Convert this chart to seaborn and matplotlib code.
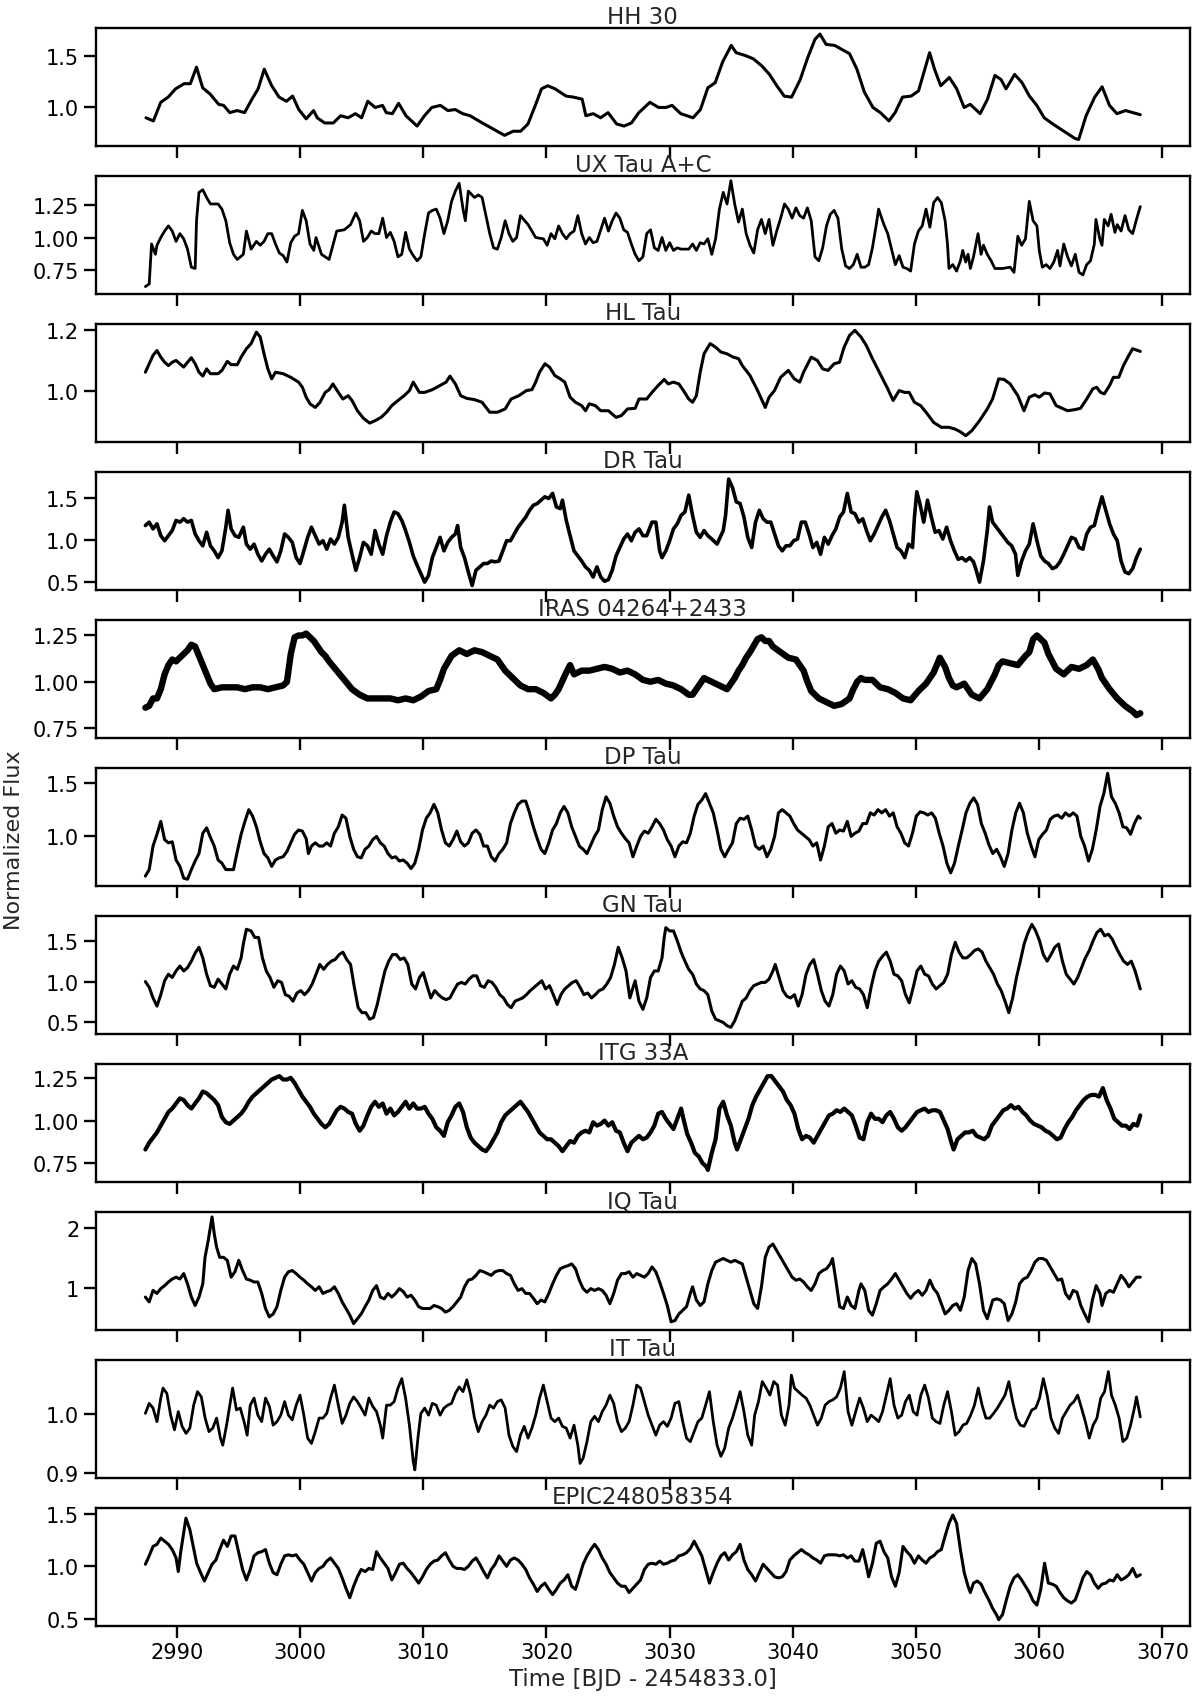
import matplotlib
matplotlib.use("Agg")
import matplotlib.pyplot as plt
import seaborn as sns
import pandas as pd

# ---------------- data (time [BJD-2454833], normalized flux) ----------------
hh30 = [(2987.5,0.90),(2988.1,0.87),(2988.7,1.05),(2989.3,1.10),(2989.9,1.18),(2990.6,1.23),(2991.1,1.23),
        (2991.6,1.39),(2992.1,1.19),(2992.7,1.13),(2993.4,1.03),(2993.8,1.02),(2994.3,0.95),(2994.9,0.97),
        (2995.5,0.95),(2996.1,1.08),(2996.6,1.18),(2997.1,1.37),(2997.7,1.21),(2998.3,1.10),(2998.9,1.06),
        (2999.4,1.11),(2999.9,0.98),(3000.5,0.89),(3001.1,0.97),(3001.4,0.90),(3002.0,0.85),(3002.7,0.85),
        (3003.3,0.92),(3003.9,0.90),(3004.5,0.94),(3005.0,0.90),(3005.5,1.06),(3006.1,1.00),(3006.7,1.02),
        (3007.0,0.95),(3007.5,0.94),(3008.0,1.04),(3008.6,0.92),(3009.5,0.82),(3010.1,0.92),(3010.7,1.00),
        (3011.4,1.02),(3012.0,0.97),(3012.6,0.98),(3013.2,0.94),(3013.8,0.92),(3014.8,0.85),(3015.7,0.79),
        (3016.6,0.73),(3017.3,0.77),(3017.9,0.77),(3018.5,0.84),(3019.1,1.02),(3019.6,1.18),(3020.1,1.21),
        (3020.7,1.18),(3021.6,1.11),(3022.2,1.10),(3022.9,1.08),(3023.2,0.92),(3023.8,0.94),(3024.4,0.90),
        (3025.0,0.95),(3025.7,0.84),(3026.3,0.82),(3026.9,0.85),(3027.5,0.95),(3028.4,1.05),(3029.1,1.00),
        (3029.7,1.00),(3030.2,1.02),(3030.9,0.94),(3031.9,0.90),(3032.5,0.98),(3033.1,1.19),(3033.7,1.24),
        (3034.3,1.44),(3035.0,1.60),(3035.4,1.53),(3036.2,1.50),(3036.8,1.47),(3037.5,1.40),(3038.1,1.32),
        (3038.7,1.21),(3039.3,1.11),(3039.9,1.10),(3040.6,1.27),(3041.2,1.48),(3041.8,1.66),(3042.2,1.71),
        (3042.7,1.61),(3043.4,1.60),(3044.0,1.56),(3044.6,1.52),(3045.2,1.37),(3045.8,1.15),(3046.5,1.00),
        (3047.1,0.95),(3047.8,0.87),(3048.3,0.95),(3048.9,1.10),(3049.6,1.11),(3050.2,1.16),(3051.1,1.53),
        (3051.5,1.37),(3052.0,1.21),(3052.7,1.29),(3053.3,1.18),(3053.9,1.00),(3054.4,1.03),(3055.2,0.94),
        (3055.8,1.08),(3056.4,1.31),(3056.9,1.27),(3057.3,1.18),(3058.0,1.32),(3058.6,1.24),(3059.2,1.11),
        (3059.8,1.02),(3060.4,0.90),(3061.1,0.84),(3062.0,0.77),(3062.9,0.70),(3063.2,0.69),(3063.8,0.92),
        (3064.5,1.10),(3065.1,1.20),(3065.7,1.02),(3066.3,0.94),(3067.0,0.97),(3067.6,0.95),(3068.2,0.93)]

ux_tau = [(2987.45,0.62),(2987.76,0.64),(2987.95,0.95),(2988.26,0.87),(2988.39,0.94),(2988.70,1.00),
          (2989.01,1.05),(2989.32,1.09),(2989.63,1.05),(2989.94,0.97),(2990.25,1.03),(2990.56,0.99),
          (2990.87,0.91),(2991.18,0.77),(2991.49,0.76),(2991.60,1.13),(2991.80,1.35),(2992.11,1.37),
          (2992.42,1.31),(2992.73,1.26),(2993.35,1.26),(2993.66,1.22),(2993.98,1.13),(2994.29,0.96),
          (2994.60,0.87),(2994.91,0.83),(2995.40,0.87),(2995.65,1.05),(2996.03,0.91),(2996.46,0.97),
          (2996.77,0.94),(2997.08,0.97),(2997.39,1.03),(2997.70,1.03),(2998.01,0.95),(2998.32,0.88),
          (2998.63,0.86),(2998.94,0.81),(2999.25,0.96),(2999.56,1.01),(2999.88,1.03),(3000.19,1.21),
          (3000.50,1.13),(3000.81,0.95),(3001.12,0.90),(3001.30,1.00),(3001.74,0.87),(3002.36,0.83),
          (3002.98,1.05),(3003.60,1.06),(3004.10,1.10),(3004.53,1.19),(3004.84,1.13),(3005.15,0.97),
          (3005.47,1.00),(3005.78,1.05),(3006.09,1.03),(3006.40,1.03),(3006.71,1.15),(3007.02,1.00),
          (3007.33,1.04),(3007.64,0.97),(3007.95,0.85),(3008.26,0.87),(3008.57,1.04),(3008.88,0.91),
          (3009.19,0.86),(3009.50,0.82),(3009.81,0.85),(3010.12,1.03),(3010.43,1.19),(3010.74,1.21),
          (3011.06,1.22),(3011.37,1.15),(3011.68,1.03),(3011.99,1.13),(3012.30,1.28),(3012.61,1.36),
          (3012.92,1.42),(3013.23,1.22),(3013.42,1.13),(3013.66,1.36),(3014.16,1.31),(3014.47,1.33),
          (3014.78,1.31),(3015.09,1.17),(3015.40,1.03),(3015.71,0.92),(3016.02,0.91),(3016.33,1.00),
          (3016.65,1.13),(3016.96,1.03),(3017.27,0.97),(3017.58,1.00),(3017.89,1.17),(3018.51,1.10),
          (3019.13,1.00),(3019.75,0.99),(3020.06,0.94),(3020.37,1.03),(3020.68,0.99),(3020.99,1.09),
          (3021.30,1.03),(3021.61,0.99),(3021.92,1.03),(3022.24,1.05),(3022.55,1.17),(3022.86,1.03),
          (3023.17,0.95),(3023.48,1.00),(3023.79,0.96),(3024.10,0.97),(3024.41,1.06),(3024.72,1.15),
          (3025.03,1.05),(3025.34,1.13),(3025.65,1.19),(3025.96,1.15),(3026.27,1.06),(3026.58,1.04),
          (3026.89,0.95),(3027.20,0.87),(3027.51,0.82),(3027.83,0.85),(3028.14,1.03),(3028.45,1.06),
          (3028.76,0.92),(3029.07,0.90),(3029.38,1.00),(3029.69,0.90),(3030.00,0.96),(3030.31,0.90),
          (3030.62,0.92),(3030.93,0.91),(3031.55,0.91),(3031.86,0.95),(3032.17,0.90),(3032.48,0.96),
          (3032.79,0.95),(3033.10,0.99),(3033.42,0.87),(3033.73,0.99),(3034.04,1.22),(3034.35,1.35),
          (3034.66,1.26),(3034.97,1.44),(3035.28,1.26),(3035.59,1.12),(3035.90,1.22),(3036.21,1.03),
          (3036.52,0.94),(3036.83,0.88),(3037.14,1.06),(3037.45,1.14),(3037.76,1.03),(3038.07,1.14),
          (3038.38,0.94),(3038.69,1.05),(3039.01,1.15),(3039.32,1.26),(3039.63,1.22),(3039.94,1.15),
          (3040.25,1.23),(3040.56,1.17),(3040.87,1.15),(3041.18,1.23),(3041.49,1.13),(3041.80,0.85),
          (3042.11,0.82),(3042.42,0.92),(3042.73,1.09),(3043.04,1.18),(3043.35,1.21),(3043.66,1.15),
          (3043.97,0.91),(3044.28,0.78),(3044.60,0.76),(3044.91,0.79),(3045.22,0.87),(3045.53,0.77),
          (3045.84,0.77),(3046.15,0.79),(3046.46,0.92),(3046.77,1.10),(3046.96,1.22),(3047.39,1.10),
          (3047.70,1.03),(3048.01,0.91),(3048.32,0.79),(3048.63,0.86),(3048.94,0.77),(3049.25,0.76),
          (3049.56,0.74),(3049.87,0.95),(3050.19,1.05),(3050.50,1.09),(3050.81,1.22),(3051.12,1.08),
          (3051.43,1.27),(3051.74,1.31),(3052.05,1.27),(3052.36,1.13),(3052.55,0.95),(3052.67,0.76),
          (3052.98,0.79),(3053.29,0.74),(3053.60,0.82),(3053.79,0.90),(3054.03,0.81),(3054.22,0.87),
          (3054.41,0.76),(3054.66,0.85),(3055.03,1.03),(3055.28,0.87),(3055.47,0.94),(3055.78,0.87),
          (3056.09,0.82),(3056.40,0.76),(3057.02,0.76),(3057.64,0.77),(3057.95,0.73),(3058.26,1.01),
          (3058.57,0.94),(3058.88,0.99),(3059.19,1.28),(3059.50,1.13),(3059.81,1.09),(3060.00,0.90),
          (3060.25,0.77),(3060.56,0.79),(3060.87,0.76),(3061.18,0.81),(3061.49,0.90),(3061.68,0.78),
          (3061.99,0.95),(3062.30,0.85),(3062.61,0.78),(3062.92,0.87),(3063.23,0.73),(3063.54,0.71),
          (3063.85,0.79),(3064.16,0.82),(3064.47,0.95),(3064.60,1.14),(3064.91,0.99),(3065.09,0.94),
          (3065.28,1.14),(3065.59,1.09),(3065.83,1.18),(3066.14,1.04),(3066.33,1.10),(3066.64,1.05),
          (3066.96,1.17),(3067.27,1.06),(3067.58,1.03),(3067.89,1.14),(3068.20,1.24)]

hl_tau = [(2987.45,1.061),(2987.76,1.089),(2988.07,1.117),(2988.39,1.133),(2988.70,1.111),(2989.01,1.094),
          (2989.32,1.083),(2989.63,1.094),(2989.94,1.100),(2990.25,1.089),(2990.56,1.078),(2990.87,1.094),
          (2991.18,1.109),(2991.49,1.089),(2991.80,1.061),(2992.11,1.048),(2992.42,1.072),(2992.73,1.056),
          (2993.04,1.056),(2993.35,1.056),(2993.66,1.067),(2994.10,1.097),(2994.41,1.086),(2994.91,1.086),
          (2995.22,1.111),(2995.65,1.139),(2996.03,1.156),(2996.46,1.194),(2996.77,1.178),(2997.08,1.122),
          (2997.39,1.072),(2997.70,1.039),(2998.01,1.061),(2998.63,1.056),(2999.25,1.044),(2999.88,1.028),
          (3000.19,1.011),(3000.50,0.978),(3000.81,0.956),(3001.24,0.944),(3001.62,0.961),(3002.05,0.994),
          (3002.36,1.003),(3002.67,1.022),(3003.11,0.994),(3003.48,0.972),(3003.91,0.983),(3004.22,0.967),
          (3004.66,0.933),(3005.15,0.908),(3005.65,0.892),(3006.09,0.900),(3006.58,0.911),(3007.02,0.928),
          (3007.45,0.950),(3007.95,0.967),(3008.45,0.983),(3008.88,1.000),(3009.19,1.028),(3009.69,0.994),
          (3010.12,0.994),(3010.74,1.003),(3011.37,1.017),(3011.86,1.028),(3012.17,1.048),(3012.61,1.022),
          (3013.04,0.983),(3013.54,0.974),(3014.16,0.970),(3014.78,0.961),(3015.40,0.928),(3016.02,0.928),
          (3016.65,0.939),(3017.14,0.972),(3017.76,0.983),(3018.38,1.000),(3018.82,1.003),(3019.13,1.028),
          (3019.44,1.061),(3019.88,1.089),(3020.25,1.078),(3020.68,1.050),(3021.12,1.039),(3021.49,1.028),
          (3021.92,0.978),(3022.36,0.961),(3022.86,0.950),(3023.17,0.933),(3023.48,0.956),(3023.97,0.950),
          (3024.41,0.933),(3025.03,0.933),(3025.65,0.911),(3026.09,0.917),(3026.58,0.939),(3027.20,0.941),
          (3027.51,0.972),(3028.14,0.972),(3028.57,0.994),(3029.07,1.017),(3029.56,1.037),(3029.88,1.022),
          (3030.31,1.028),(3030.75,1.022),(3031.12,1.000),(3031.55,0.972),(3031.86,0.961),(3032.17,0.983),
          (3032.48,1.061),(3032.79,1.122),(3033.29,1.156),(3033.73,1.144),(3034.16,1.128),(3034.66,1.122),
          (3035.16,1.111),(3035.59,1.106),(3035.90,1.083),(3036.52,1.050),(3037.14,1.000),(3037.76,0.944),
          (3038.07,0.978),(3038.51,1.000),(3039.01,1.044),(3039.63,1.067),(3040.12,1.039),(3040.56,1.028),
          (3040.87,1.061),(3041.49,1.111),(3041.99,1.100),(3042.42,1.072),(3042.86,1.067),(3043.35,1.089),
          (3043.79,1.094),(3044.16,1.144),(3044.60,1.183),(3045.03,1.200),(3045.53,1.178),(3045.96,1.150),
          (3046.46,1.106),(3047.08,1.056),(3047.70,1.006),(3048.14,0.967),(3048.63,1.000),(3049.07,0.994),
          (3049.44,0.994),(3049.87,0.961),(3050.37,0.950),(3050.81,0.928),(3051.43,0.894),(3052.05,0.878),
          (3052.67,0.878),(3053.17,0.872),(3053.60,0.863),(3054.03,0.850),(3054.53,0.867),(3055.15,0.900),
          (3055.78,0.939),(3056.21,0.972),(3056.71,1.039),(3057.14,1.037),(3057.64,1.022),(3058.26,0.983),
          (3058.76,0.933),(3059.19,0.978),(3059.63,0.986),(3060.00,0.978),(3060.43,0.992),(3060.87,0.989),
          (3061.37,0.950),(3061.86,0.941),(3062.30,0.933),(3062.92,0.937),(3063.35,0.941),(3063.85,0.972),
          (3064.35,1.006),(3064.66,1.011),(3064.97,0.994),(3065.28,0.989),(3065.71,1.017),(3066.02,1.044),
          (3066.45,1.044),(3066.83,1.083),(3067.27,1.117),(3067.58,1.139),(3068.20,1.130)]

dr_tau = [(2987.45,1.17),(2987.76,1.21),(2988.07,1.13),(2988.39,1.19),(2988.70,1.05),(2989.01,0.99),
          (2989.32,1.05),(2989.63,1.11),(2989.94,1.23),(2990.25,1.21),(2990.56,1.25),(2990.87,1.21),
          (2991.18,1.23),(2991.49,1.07),(2991.80,0.99),(2992.11,0.93),(2992.42,1.09),(2992.73,0.93),
          (2993.04,0.87),(2993.35,0.79),(2993.66,0.87),(2993.98,1.15),(2994.16,1.35),(2994.41,1.13),
          (2994.72,1.05),(2995.03,1.03),(2995.40,1.15),(2995.65,0.95),(2995.96,0.89),(2996.27,0.95),
          (2996.58,0.83),(2996.89,0.75),(2997.20,0.83),(2997.51,0.89),(2997.82,0.81),(2998.13,0.74),
          (2998.44,0.87),(2998.75,1.07),(2999.06,1.03),(2999.37,0.97),(2999.69,0.79),(3000.00,0.72),
          (3000.31,0.87),(3000.62,1.03),(3000.93,1.15),(3001.24,1.05),(3001.55,0.95),(3001.86,0.99),
          (3002.17,0.89),(3002.48,1.01),(3002.79,0.95),(3003.11,1.03),(3003.42,1.21),(3003.60,1.41),
          (3003.91,1.03),(3004.22,0.83),(3004.53,0.64),(3004.84,0.79),(3005.15,0.97),(3005.47,0.93),
          (3005.78,0.83),(3006.09,1.11),(3006.40,0.95),(3006.71,0.83),(3007.02,1.05),(3007.33,1.21),
          (3007.64,1.33),(3007.95,1.31),(3008.26,1.23),(3008.57,1.11),(3008.88,0.97),(3009.19,0.81),
          (3009.50,0.70),(3009.81,0.60),(3010.12,0.50),(3010.43,0.58),(3010.74,0.79),(3011.06,0.91),
          (3011.37,1.03),(3011.68,0.87),(3011.99,0.97),(3012.30,1.03),(3012.61,1.07),(3012.79,1.17),
          (3013.04,0.91),(3013.35,0.79),(3013.66,0.62),(3013.97,0.46),(3014.28,0.64),(3014.59,0.68),
          (3014.90,0.72),(3015.21,0.72),(3015.52,0.75),(3015.83,0.74),(3016.15,0.75),(3016.46,0.87),
          (3016.77,0.99),(3017.08,0.99),(3017.39,1.07),(3017.70,1.15),(3018.01,1.21),(3018.32,1.27),
          (3018.63,1.35),(3018.94,1.41),(3019.25,1.43),(3019.56,1.47),(3019.87,1.51),(3020.19,1.49),
          (3020.50,1.55),(3020.81,1.39),(3021.12,1.37),(3021.30,1.47),(3021.61,1.23),(3021.92,1.05),
          (3022.24,0.87),(3022.55,0.81),(3022.86,0.75),(3023.17,0.68),(3023.48,0.64),(3023.79,0.56),
          (3024.10,0.68),(3024.41,0.56),(3024.72,0.51),(3025.03,0.53),(3025.34,0.64),(3025.65,0.81),
          (3025.96,0.91),(3026.27,1.01),(3026.58,1.07),(3026.89,0.99),(3027.20,1.09),(3027.51,1.13),
          (3027.83,1.05),(3028.14,1.05),(3028.57,1.21),(3028.88,1.21),(3029.19,0.87),(3029.38,0.79),
          (3029.69,0.87),(3030.00,0.99),(3030.31,1.13),(3030.62,1.19),(3030.93,1.29),(3031.24,1.33),
          (3031.55,1.53),(3031.86,1.29),(3032.17,1.09),(3032.48,1.03),(3032.79,1.11),(3033.10,1.05),
          (3033.42,1.01),(3033.85,0.95),(3034.35,1.11),(3034.54,1.29),(3034.79,1.72),(3035.10,1.62),
          (3035.41,1.45),(3035.72,1.43),(3036.03,1.27),(3036.34,1.03),(3036.66,0.91),(3036.97,1.21),
          (3037.28,1.35),(3037.59,1.25),(3037.90,1.21),(3038.21,1.21),(3038.52,1.07),(3038.83,0.93),
          (3039.14,0.87),(3039.45,0.93),(3039.76,0.93),(3040.07,0.99),(3040.38,1.01),(3040.69,1.21),
          (3041.01,1.21),(3041.32,1.07),(3041.63,0.91),(3041.94,0.97),(3042.25,0.83),(3042.56,1.03),
          (3042.87,0.95),(3043.18,1.05),(3043.49,1.13),(3043.80,1.27),(3044.11,1.33),(3044.42,1.55),
          (3044.73,1.33),(3045.04,1.31),(3045.36,1.21),(3045.67,1.25),(3045.98,1.11),(3046.29,0.99),
          (3046.60,1.07),(3046.91,1.17),(3047.22,1.27),(3047.53,1.35),(3047.84,1.23),(3048.15,1.07),
          (3048.46,0.91),(3048.77,0.87),(3049.08,0.79),(3049.39,0.95),(3049.71,0.91),(3049.87,1.27),
          (3050.06,1.57),(3050.31,1.43),(3050.62,1.21),(3050.93,1.47),(3051.24,1.27),(3051.55,1.09),
          (3051.86,1.11),(3052.17,1.01),(3052.48,1.15),(3052.80,0.99),(3053.11,0.87),(3053.42,0.77),
          (3053.73,0.79),(3054.04,0.75),(3054.35,0.79),(3054.66,0.74),(3054.84,0.66),(3055.15,0.50),
          (3055.47,0.75),(3055.78,1.11),(3055.96,1.39),(3056.21,1.21),(3056.52,1.15),(3056.83,1.09),
          (3057.14,1.03),(3057.45,0.97),(3057.76,0.93),(3058.07,0.83),(3058.26,0.58),(3058.57,0.75),
          (3058.88,0.87),(3059.19,0.95),(3059.50,1.19),(3059.81,0.99),(3060.12,0.81),(3060.43,0.75),
          (3060.74,0.72),(3061.06,0.66),(3061.37,0.68),(3061.68,0.74),(3061.99,0.83),(3062.30,0.93),
          (3062.61,1.03),(3062.92,1.01),(3063.23,0.91),(3063.54,0.89),(3063.85,1.07),(3064.16,1.15),
          (3064.47,1.17),(3064.78,1.35),(3065.09,1.51),(3065.40,1.35),(3065.71,1.19),(3066.02,1.07),
          (3066.33,0.99),(3066.64,0.75),(3066.96,0.62),(3067.27,0.60),(3067.58,0.66),(3067.89,0.79),
          (3068.20,0.89)]

iras = [(2987.45,0.86),(2987.76,0.87),(2988.07,0.91),(2988.39,0.91),(2988.70,0.96),(2989.01,1.04),
        (2989.32,1.09),(2989.63,1.12),(2989.94,1.11),(2990.25,1.13),(2990.56,1.15),(2990.87,1.17),
        (2991.18,1.20),(2991.49,1.19),(2991.80,1.14),(2992.11,1.09),(2992.42,1.04),(2992.73,0.99),
        (2993.04,0.96),(2993.66,0.97),(2994.29,0.97),(2994.91,0.97),(2995.53,0.96),(2996.15,0.97),
        (2996.77,0.97),(2997.39,0.96),(2998.01,0.97),(2998.63,0.98),(2998.94,1.00),(2999.25,1.15),
        (2999.56,1.24),(2999.88,1.25),(3000.19,1.25),(3000.50,1.26),(3000.81,1.24),(3001.12,1.22),
        (3001.43,1.19),(3001.74,1.16),(3002.05,1.14),(3002.36,1.11),(3002.98,1.06),(3003.60,1.01),
        (3004.22,0.96),(3004.84,0.93),(3005.47,0.91),(3006.09,0.91),(3006.71,0.91),(3007.33,0.91),
        (3007.95,0.90),(3008.57,0.91),(3009.19,0.90),(3009.81,0.92),(3010.43,0.95),(3011.06,0.96),
        (3011.37,1.01),(3011.68,1.07),(3012.30,1.14),(3012.92,1.17),(3013.54,1.15),(3014.16,1.17),
        (3014.78,1.16),(3015.40,1.14),(3016.02,1.12),(3016.65,1.06),(3017.27,1.02),(3017.89,0.98),
        (3018.51,0.96),(3019.13,0.96),(3019.75,0.94),(3020.37,0.91),(3020.68,0.93),(3020.99,0.96),
        (3021.61,1.05),(3021.92,1.09),(3022.24,1.04),(3022.86,1.06),(3023.48,1.06),(3024.10,1.07),
        (3024.72,1.08),(3025.34,1.07),(3025.96,1.05),(3026.58,1.06),(3027.20,1.04),(3027.83,1.01),
        (3028.45,1.00),(3029.07,1.01),(3029.69,0.99),(3030.31,0.98),(3030.93,0.96),(3031.55,0.93),
        (3031.86,0.93),(3032.17,0.96),(3032.79,1.02),(3033.42,1.00),(3034.04,0.98),(3034.66,0.96),
        (3035.28,1.02),(3035.59,1.06),(3035.90,1.09),(3036.21,1.13),(3036.52,1.16),(3037.14,1.23),
        (3037.45,1.24),(3037.76,1.22),(3038.07,1.22),(3038.38,1.19),(3039.01,1.16),(3039.63,1.13),
        (3040.25,1.12),(3040.56,1.09),(3040.87,1.06),(3041.18,1.00),(3041.49,0.95),(3042.11,0.91),
        (3042.73,0.89),(3043.35,0.87),(3043.97,0.88),(3044.60,0.91),(3044.91,0.96),(3045.22,1.00),
        (3045.53,1.02),(3045.84,1.01),(3046.46,1.01),(3047.08,0.97),(3047.70,0.96),(3048.32,0.94),
        (3048.94,0.91),(3049.56,0.90),(3050.19,0.95),(3050.81,0.99),(3051.43,1.05),(3051.93,1.13),
        (3052.36,1.08),(3052.67,1.02),(3052.98,0.98),(3053.29,0.97),(3053.91,0.99),(3054.22,0.96),
        (3054.53,0.93),(3054.84,0.92),(3055.15,0.91),(3055.78,0.96),(3056.40,1.04),(3056.71,1.09),
        (3057.02,1.11),(3057.64,1.10),(3058.26,1.09),(3058.88,1.14),(3059.19,1.16),(3059.50,1.23),
        (3059.81,1.25),(3060.12,1.23),(3060.43,1.21),(3060.74,1.15),(3061.37,1.07),(3061.99,1.04),
        (3062.61,1.08),(3063.23,1.07),(3063.85,1.09),(3064.35,1.12),(3064.78,1.07),(3065.09,1.02),
        (3065.71,0.96),(3066.33,0.91),(3066.96,0.87),(3067.58,0.84),(3067.89,0.82),(3068.20,0.83)]

dp_tau = [(2987.45,0.63),(2987.76,0.69),(2988.07,0.91),(2988.39,1.02),(2988.70,1.14),(2989.01,0.97),
          (2989.32,0.94),(2989.63,0.95),(2989.94,0.78),(2990.25,0.72),(2990.56,0.61),(2990.87,0.60),
          (2991.18,0.69),(2991.49,0.77),(2991.80,0.84),(2992.11,1.03),(2992.42,1.08),(2992.73,0.99),
          (2993.04,0.91),(2993.35,0.78),(2993.66,0.75),(2993.98,0.69),(2994.29,0.69),(2994.60,0.69),
          (2994.91,0.86),(2995.22,1.02),(2995.53,1.14),(2995.84,1.25),(2996.15,1.19),(2996.46,1.09),
          (2996.77,0.95),(2997.08,0.84),(2997.39,0.80),(2997.70,0.72),(2998.01,0.78),(2998.32,0.80),
          (2998.63,0.81),(2998.94,0.86),(2999.25,0.94),(2999.56,1.02),(2999.88,1.06),(3000.19,1.05),
          (3000.50,0.98),(3000.68,0.84),(3000.93,0.91),(3001.24,0.94),(3001.55,0.91),(3001.86,0.91),
          (3002.17,0.94),(3002.48,0.91),(3002.79,1.03),(3003.11,1.09),(3003.42,1.20),(3003.73,1.17),
          (3004.04,1.00),(3004.35,0.88),(3004.66,0.81),(3004.97,0.80),(3005.28,0.88),(3005.59,0.91),
          (3005.90,0.97),(3006.21,1.00),(3006.52,0.94),(3006.83,0.91),(3007.14,0.84),(3007.45,0.80),
          (3007.76,0.81),(3008.07,0.77),(3008.38,0.78),(3008.69,0.75),(3009.01,0.70),(3009.32,0.75),
          (3009.63,0.88),(3009.94,1.06),(3010.25,1.17),(3010.56,1.22),(3010.87,1.30),(3011.18,1.22),
          (3011.49,1.06),(3011.80,0.94),(3012.11,0.91),(3012.42,0.97),(3012.73,1.05),(3013.04,0.95),
          (3013.35,0.91),(3013.66,0.94),(3013.97,1.03),(3014.28,1.06),(3014.59,1.02),(3014.90,0.91),
          (3015.21,0.91),(3015.52,0.81),(3015.83,0.77),(3016.15,0.84),(3016.46,0.88),(3016.77,0.94),
          (3017.08,1.12),(3017.39,1.22),(3017.70,1.30),(3018.01,1.33),(3018.32,1.33),(3018.63,1.22),
          (3018.94,1.09),(3019.25,0.98),(3019.56,0.88),(3019.87,0.84),(3020.19,0.94),(3020.50,1.06),
          (3020.81,1.12),(3021.12,1.22),(3021.43,1.28),(3021.74,1.22),(3022.05,1.09),(3022.36,1.00),
          (3022.67,0.91),(3022.98,0.88),(3023.29,0.84),(3023.60,0.92),(3023.91,1.00),(3024.22,1.06),
          (3024.53,1.25),(3024.84,1.37),(3025.15,1.31),(3025.46,1.19),(3025.77,1.09),(3026.09,1.03),
          (3026.40,0.98),(3026.71,0.94),(3027.02,0.81),(3027.33,0.91),(3027.64,1.00),(3027.95,1.05),
          (3028.26,1.03),(3028.57,1.09),(3028.88,1.16),(3029.19,1.12),(3029.50,1.06),(3029.81,0.97),
          (3030.12,0.91),(3030.43,0.81),(3030.75,0.91),(3031.06,0.95),(3031.37,0.94),(3031.68,1.03),
          (3031.99,1.19),(3032.30,1.30),(3032.61,1.34),(3032.92,1.40),(3033.23,1.31),(3033.54,1.22),
          (3033.85,1.06),(3034.16,0.88),(3034.47,0.81),(3034.79,0.88),(3035.10,0.94),(3035.41,1.12),
          (3035.72,1.17),(3036.03,1.16),(3036.34,1.19),(3036.66,1.06),(3036.97,0.91),(3037.28,0.88),
          (3037.59,0.91),(3037.90,0.81),(3038.21,0.88),(3038.52,1.00),(3038.83,1.22),(3039.14,1.25),
          (3039.45,1.22),(3039.76,1.19),(3040.07,1.12),(3040.38,1.06),(3040.69,1.03),(3041.01,1.00),
          (3041.32,0.97),(3041.63,0.91),(3041.94,0.94),(3042.25,0.78),(3042.56,0.91),(3042.87,1.09),
          (3043.18,1.12),(3043.49,1.03),(3043.80,1.06),(3044.11,1.05),(3044.42,1.14),(3044.73,1.00),
          (3045.04,1.03),(3045.36,1.05),(3045.67,1.12),(3045.98,1.12),(3046.29,1.22),(3046.60,1.20),
          (3046.91,1.25),(3047.22,1.22),(3047.53,1.25),(3047.84,1.19),(3048.15,1.22),(3048.46,1.09),
          (3048.77,1.03),(3049.08,0.94),(3049.39,0.91),(3049.71,1.03),(3050.02,1.19),(3050.33,1.23),
          (3050.64,1.22),(3050.95,1.20),(3051.26,1.22),(3051.57,1.17),(3051.88,1.03),(3052.19,0.91),
          (3052.50,0.75),(3052.81,0.66),(3053.12,0.75),(3053.43,0.91),(3053.74,1.06),(3054.05,1.22),
          (3054.37,1.31),(3054.68,1.36),(3054.99,1.30),(3055.30,1.12),(3055.61,1.03),(3055.92,0.92),
          (3056.23,0.84),(3056.54,0.88),(3056.85,0.81),(3057.16,0.72),(3057.47,0.84),(3057.78,1.06),
          (3058.09,1.22),(3058.40,1.31),(3058.71,1.22),(3059.03,1.03),(3059.34,0.91),(3059.65,0.81),
          (3059.96,0.97),(3060.27,1.02),(3060.58,1.06),(3060.89,1.16),(3061.20,1.19),(3061.51,1.20),
          (3061.82,1.17),(3062.13,1.22),(3062.44,1.19),(3062.75,1.22),(3063.06,1.19),(3063.37,1.00),
          (3063.68,0.91),(3064.00,0.77),(3064.31,0.88),(3064.62,1.06),(3064.93,1.28),(3065.24,1.40),
          (3065.55,1.59),(3065.86,1.37),(3066.17,1.31),(3066.48,1.22),(3066.79,1.09),(3067.10,1.08),
          (3067.41,1.02),(3067.72,1.12),(3068.03,1.19),(3068.20,1.17)]

gn_tau = [(2987.45,1.00),(2987.76,0.93),(2988.07,0.80),(2988.39,0.70),(2988.70,0.84),(2989.01,1.01),
          (2989.32,1.09),(2989.63,1.05),(2989.94,1.13),(2990.25,1.19),(2990.56,1.13),(2990.87,1.17),
          (2991.18,1.25),(2991.49,1.35),(2991.80,1.42),(2992.11,1.29),(2992.42,1.09),(2992.73,0.95),
          (2993.04,0.93),(2993.35,1.03),(2993.66,0.97),(2993.98,0.91),(2994.29,1.09),(2994.60,1.19),
          (2994.91,1.15),(2995.22,1.29),(2995.40,1.46),(2995.65,1.64),(2996.03,1.62),(2996.33,1.54),
          (2996.64,1.54),(2996.95,1.29),(2997.26,1.13),(2997.57,1.05),(2997.88,0.93),(2998.19,1.01),
          (2998.50,0.99),(2998.81,0.84),(2999.12,0.82),(2999.43,0.76),(2999.75,0.86),(3000.06,0.89),
          (3000.37,0.84),(3000.68,0.89),(3000.99,0.97),(3001.30,1.09),(3001.61,1.21),(3001.92,1.15),
          (3002.23,1.21),(3002.54,1.25),(3002.85,1.27),(3003.17,1.33),(3003.48,1.36),(3003.79,1.27),
          (3004.10,1.21),(3004.41,0.93),(3004.72,0.68),(3005.03,0.62),(3005.34,0.62),(3005.65,0.54),
          (3005.96,0.56),(3006.27,0.72),(3006.58,0.93),(3006.89,1.13),(3007.20,1.25),(3007.51,1.33),
          (3007.82,1.33),(3008.13,1.27),(3008.44,1.29),(3008.75,1.21),(3009.07,0.97),(3009.38,0.91),
          (3009.69,1.05),(3010.00,1.11),(3010.31,0.95),(3010.62,0.80),(3010.93,0.89),(3011.24,0.84),
          (3011.55,0.80),(3011.86,0.78),(3012.17,0.80),(3012.48,0.89),(3012.79,0.97),(3013.10,0.99),
          (3013.41,0.97),(3013.72,1.03),(3014.03,1.07),(3014.34,1.07),(3014.65,0.95),(3014.96,0.93),
          (3015.27,1.01),(3015.58,0.99),(3015.89,0.93),(3016.21,0.84),(3016.52,0.80),(3016.83,0.72),
          (3017.14,0.68),(3017.45,0.76),(3017.76,0.78),(3018.07,0.80),(3018.38,0.84),(3018.69,0.89),
          (3019.00,0.93),(3019.31,0.97),(3019.62,1.01),(3019.93,0.91),(3020.25,0.95),(3020.56,0.84),
          (3020.87,0.72),(3021.18,0.84),(3021.49,0.91),(3021.80,0.95),(3022.11,0.99),(3022.42,1.01),
          (3022.73,0.93),(3023.04,0.84),(3023.35,0.86),(3023.66,0.80),(3023.97,0.84),(3024.28,0.89),
          (3024.59,0.91),(3024.90,0.97),(3025.21,1.05),(3025.52,1.21),(3025.83,1.42),(3026.15,1.29),
          (3026.46,1.13),(3026.77,0.80),(3026.95,0.89),(3027.20,1.01),(3027.51,0.76),(3027.83,0.66),
          (3028.14,0.80),(3028.45,1.05),(3028.76,1.13),(3029.07,1.13),(3029.38,1.29),(3029.56,1.54),
          (3029.69,1.66),(3030.00,1.62),(3030.31,1.62),(3030.62,1.50),(3030.93,1.36),(3031.24,1.25),
          (3031.55,1.15),(3031.86,1.09),(3032.17,0.97),(3032.48,0.91),(3032.79,0.89),(3033.10,0.84),
          (3033.42,0.64),(3033.73,0.54),(3034.04,0.52),(3034.35,0.50),(3034.66,0.46),(3034.97,0.44),
          (3035.28,0.52),(3035.59,0.64),(3035.90,0.76),(3036.21,0.80),(3036.52,0.89),(3036.83,0.95),
          (3037.14,0.97),(3037.45,0.99),(3037.76,0.99),(3038.07,1.03),(3038.38,1.13),(3038.57,1.21),
          (3038.88,1.05),(3039.20,0.89),(3039.51,0.82),(3039.82,0.80),(3040.13,0.84),(3040.44,0.70),
          (3040.75,0.84),(3041.07,1.09),(3041.38,1.21),(3041.69,1.27),(3042.00,1.09),(3042.31,0.89),
          (3042.62,0.76),(3042.93,0.70),(3043.24,0.84),(3043.55,1.09),(3043.86,1.19),(3044.17,1.13),
          (3044.48,0.97),(3044.79,1.01),(3045.10,0.93),(3045.42,0.91),(3045.73,0.84),(3046.04,0.68),
          (3046.35,0.93),(3046.66,1.13),(3046.97,1.25),(3047.28,1.31),(3047.59,1.36),(3047.90,1.25),
          (3048.21,1.09),(3048.52,1.07),(3048.83,1.01),(3049.14,0.84),(3049.45,0.74),(3049.77,0.93),
          (3050.08,1.13),(3050.39,1.19),(3050.70,1.09),(3051.01,1.07),(3051.32,0.97),(3051.63,0.91),
          (3051.94,0.95),(3052.25,0.99),(3052.56,1.09),(3052.87,1.33),(3053.18,1.48),(3053.49,1.36),
          (3053.80,1.29),(3054.11,1.29),(3054.43,1.33),(3054.74,1.38),(3055.05,1.40),(3055.36,1.36),
          (3055.67,1.25),(3055.98,1.17),(3056.29,1.09),(3056.60,0.97),(3056.91,0.89),(3057.22,0.76),
          (3057.53,0.62),(3057.84,0.80),(3058.15,1.05),(3058.46,1.25),(3058.77,1.46),(3059.09,1.60),
          (3059.40,1.70),(3059.71,1.62),(3060.02,1.50),(3060.33,1.33),(3060.64,1.25),(3060.95,1.33),
          (3061.26,1.42),(3061.57,1.46),(3061.88,1.25),(3062.19,1.09),(3062.50,1.03),(3062.81,0.97),
          (3063.12,1.05),(3063.43,1.17),(3063.74,1.29),(3064.06,1.38),(3064.37,1.50),(3064.68,1.60),
          (3064.99,1.64),(3065.30,1.56),(3065.61,1.58),(3065.92,1.52),(3066.23,1.42),(3066.54,1.33),
          (3066.85,1.25),(3067.16,1.21),(3067.47,1.25),(3067.78,1.13),(3068.09,0.97),(3068.20,0.91)]

itg33a = [(2987.45,0.83),(2987.76,0.87),(2988.07,0.90),(2988.39,0.93),(2988.70,0.97),(2989.01,1.01),
          (2989.32,1.05),(2989.63,1.07),(2989.94,1.10),(2990.25,1.13),(2990.56,1.12),(2990.87,1.09),
          (2991.18,1.07),(2991.49,1.10),(2991.80,1.13),(2992.11,1.17),(2992.42,1.16),(2992.73,1.14),
          (2993.04,1.12),(2993.35,1.09),(2993.66,1.02),(2993.98,0.99),(2994.29,0.98),(2994.60,1.00),
          (2994.91,1.02),(2995.22,1.04),(2995.53,1.07),(2995.84,1.11),(2996.15,1.14),(2996.46,1.16),
          (2996.77,1.18),(2997.08,1.20),(2997.39,1.22),(2997.70,1.24),(2998.01,1.25),(2998.32,1.26),
          (2998.63,1.24),(2998.94,1.24),(2999.25,1.25),(2999.56,1.22),(2999.88,1.18),(3000.19,1.14),
          (3000.50,1.11),(3000.81,1.08),(3001.12,1.04),(3001.43,1.01),(3001.74,0.98),(3002.05,0.96),
          (3002.36,0.98),(3002.67,1.02),(3002.98,1.06),(3003.29,1.08),(3003.60,1.07),(3003.91,1.05),
          (3004.22,1.04),(3004.53,0.98),(3004.84,0.94),(3005.15,0.97),(3005.47,1.03),(3005.78,1.08),
          (3006.09,1.11),(3006.40,1.08),(3006.71,1.10),(3007.02,1.04),(3007.33,1.07),(3007.64,1.03),
          (3007.95,1.05),(3008.26,1.08),(3008.57,1.11),(3008.88,1.07),(3009.19,1.10),(3009.50,1.07),
          (3009.81,1.07),(3010.12,1.08),(3010.43,1.04),(3010.74,1.01),(3011.06,0.96),(3011.37,0.94),
          (3011.68,0.91),(3011.99,0.99),(3012.30,1.03),(3012.61,1.08),(3012.92,1.10),(3013.23,1.05),
          (3013.54,0.96),(3013.85,0.90),(3014.16,0.87),(3014.47,0.85),(3014.78,0.83),(3015.09,0.82),
          (3015.40,0.85),(3015.71,0.89),(3016.02,0.93),(3016.33,0.99),(3016.65,1.03),(3016.96,1.05),
          (3017.27,1.07),(3017.58,1.09),(3017.89,1.11),(3018.20,1.08),(3018.51,1.05),(3018.82,1.01),
          (3019.13,0.97),(3019.44,0.93),(3019.75,0.91),(3020.06,0.89),(3020.37,0.89),(3020.68,0.87),
          (3020.99,0.85),(3021.30,0.82),(3021.61,0.85),(3021.92,0.88),(3022.24,0.87),(3022.55,0.91),
          (3022.86,0.93),(3023.17,0.94),(3023.48,0.93),(3023.79,0.99),(3024.10,0.97),(3024.41,0.98),
          (3024.72,1.00),(3025.03,0.97),(3025.34,0.99),(3025.65,0.94),(3025.96,0.93),(3026.27,0.87),
          (3026.58,0.82),(3026.89,0.87),(3027.20,0.89),(3027.51,0.91),(3027.83,0.89),(3028.14,0.90),
          (3028.45,0.93),(3028.76,0.97),(3029.07,1.04),(3029.38,1.05),(3029.69,1.01),(3030.00,0.98),
          (3030.31,0.95),(3030.62,1.01),(3030.93,1.07),(3031.12,1.01),(3031.43,0.92),(3031.74,0.87),
          (3032.05,0.81),(3032.36,0.79),(3032.67,0.75),(3032.98,0.73),(3033.10,0.71),(3033.42,0.81),
          (3033.73,0.89),(3034.04,1.07),(3034.35,1.11),(3034.66,1.03),(3034.97,0.97),(3035.28,0.87),
          (3035.47,0.83),(3035.78,0.89),(3036.09,0.95),(3036.40,1.01),(3036.71,1.09),(3037.02,1.14),
          (3037.33,1.18),(3037.64,1.22),(3037.95,1.26),(3038.26,1.26),(3038.57,1.23),(3038.88,1.20),
          (3039.20,1.17),(3039.51,1.12),(3039.82,1.09),(3040.13,1.04),(3040.44,0.95),(3040.75,0.89),
          (3041.07,0.91),(3041.38,0.90),(3041.69,0.87),(3042.00,0.91),(3042.31,0.95),(3042.62,0.99),
          (3042.93,1.03),(3043.24,1.04),(3043.55,1.06),(3043.86,1.05),(3044.17,1.07),(3044.48,1.05),
          (3044.79,1.03),(3045.10,0.97),(3045.42,0.90),(3045.73,0.89),(3046.04,0.99),(3046.35,1.04),
          (3046.66,1.01),(3046.97,1.01),(3047.28,0.99),(3047.59,1.03),(3047.90,1.05),(3048.21,1.01),
          (3048.52,0.96),(3048.83,0.94),(3049.14,0.96),(3049.45,0.99),(3049.77,1.02),(3050.08,1.05),
          (3050.39,1.06),(3050.70,1.07),(3051.01,1.05),(3051.32,1.06),(3051.63,1.06),(3051.94,1.05),
          (3052.25,1.00),(3052.56,0.95),(3052.87,0.87),(3053.05,0.83),(3053.36,0.89),(3053.67,0.91),
          (3053.98,0.93),(3054.29,0.93),(3054.60,0.94),(3054.91,0.91),(3055.22,0.90),(3055.53,0.89),
          (3055.84,0.91),(3056.15,0.97),(3056.46,1.00),(3056.77,1.03),(3057.08,1.06),(3057.39,1.07),
          (3057.70,1.09),(3058.01,1.07),(3058.32,1.08),(3058.64,1.05),(3058.95,1.03),(3059.26,1.00),
          (3059.57,0.98),(3059.88,0.97),(3060.19,0.96),(3060.50,0.94),(3060.81,0.93),(3061.12,0.91),
          (3061.43,0.89),(3061.74,0.90),(3062.05,0.95),(3062.36,0.99),(3062.67,1.02),(3062.98,1.06),
          (3063.29,1.09),(3063.60,1.12),(3063.92,1.14),(3064.23,1.15),(3064.54,1.15),(3064.85,1.14),
          (3065.16,1.19),(3065.47,1.12),(3065.78,1.07),(3066.09,1.01),(3066.40,0.99),(3066.71,0.97),
          (3067.02,0.97),(3067.33,0.95),(3067.64,0.98),(3067.95,0.97),(3068.20,1.03)]

iq_tau = [(2987.45,0.85),(2987.76,0.77),(2988.07,0.96),(2988.39,0.91),(2988.70,0.99),(2989.01,1.04),
          (2989.32,1.10),(2989.63,1.15),(2989.94,1.18),(2990.25,1.15),(2990.56,1.24),(2990.87,1.07),
          (2991.18,0.85),(2991.49,0.71),(2991.80,0.85),(2992.11,1.07),(2992.29,1.51),(2992.55,1.79),
          (2992.86,2.18),(2993.04,1.90),(2993.23,1.68),(2993.48,1.51),(2993.79,1.51),(2994.10,1.46),
          (2994.41,1.18),(2994.72,1.27),(2995.03,1.46),(2995.34,1.29),(2995.65,1.15),(2995.96,1.13),
          (2996.27,1.10),(2996.58,1.10),(2996.89,0.91),(2997.20,0.66),(2997.51,0.52),(2997.82,0.57),
          (2998.13,0.69),(2998.44,0.96),(2998.75,1.18),(2999.06,1.27),(2999.37,1.29),(2999.69,1.24),
          (3000.00,1.18),(3000.31,1.13),(3000.62,1.07),(3000.93,1.02),(3001.24,0.96),(3001.55,1.02),
          (3001.86,0.91),(3002.17,0.94),(3002.48,0.96),(3002.79,1.02),(3003.11,0.91),(3003.42,0.77),
          (3003.73,0.66),(3004.04,0.55),(3004.35,0.41),(3004.66,0.49),(3004.97,0.57),(3005.28,0.69),
          (3005.59,0.80),(3005.90,0.96),(3006.21,1.04),(3006.52,0.85),(3006.83,0.82),(3007.14,0.91),
          (3007.45,0.85),(3007.76,0.91),(3008.07,0.99),(3008.38,0.94),(3008.69,0.85),(3009.01,0.88),
          (3009.32,0.80),(3009.63,0.69),(3009.94,0.66),(3010.25,0.66),(3010.56,0.66),(3010.87,0.71),
          (3011.18,0.69),(3011.49,0.66),(3011.80,0.60),(3012.11,0.63),(3012.42,0.69),(3012.73,0.77),
          (3013.04,0.85),(3013.35,1.02),(3013.66,1.13),(3013.97,1.15),(3014.28,1.21),(3014.59,1.29),
          (3014.90,1.27),(3015.21,1.24),(3015.52,1.21),(3015.83,1.27),(3016.15,1.29),(3016.46,1.29),
          (3016.77,1.24),(3017.08,1.21),(3017.39,1.07),(3017.70,0.96),(3018.01,0.99),(3018.32,0.91),
          (3018.63,0.91),(3018.94,0.83),(3019.25,0.74),(3019.56,0.80),(3019.87,0.77),(3020.19,0.91),
          (3020.50,1.07),(3020.81,1.21),(3021.12,1.32),(3021.43,1.35),(3021.74,1.37),(3022.05,1.40),
          (3022.36,1.32),(3022.67,1.13),(3022.98,0.99),(3023.29,0.93),(3023.60,0.99),(3023.91,0.96),
          (3024.22,0.99),(3024.53,0.96),(3024.84,0.88),(3025.15,0.74),(3025.46,0.91),(3025.77,1.13),
          (3026.09,1.24),(3026.40,1.24),(3026.71,1.27),(3027.02,1.18),(3027.33,1.24),(3027.64,1.21),
          (3027.95,1.18),(3028.26,1.24),(3028.57,1.35),(3028.88,1.27),(3029.19,1.10),(3029.50,0.91),
          (3029.81,0.71),(3030.12,0.44),(3030.43,0.46),(3030.75,0.57),(3031.06,0.63),(3031.37,0.69),
          (3031.68,0.91),(3031.86,1.02),(3032.17,0.80),(3032.48,0.71),(3032.79,0.77),(3033.10,1.07),
          (3033.42,1.29),(3033.73,1.43),(3034.04,1.46),(3034.35,1.49),(3034.66,1.46),(3034.97,1.43),
          (3035.28,1.46),(3035.59,1.43),(3035.90,1.40),(3036.21,1.18),(3036.52,0.96),(3036.83,0.74),
          (3037.14,0.66),(3037.45,1.02),(3037.76,1.51),(3038.07,1.68),(3038.38,1.73),(3038.69,1.62),
          (3039.01,1.51),(3039.32,1.40),(3039.63,1.29),(3039.94,1.18),(3040.25,1.13),(3040.56,1.15),
          (3040.87,1.10),(3041.18,1.02),(3041.49,0.96),(3041.80,1.07),(3042.11,1.24),(3042.42,1.29),
          (3042.73,1.32),(3043.04,1.40),(3043.22,1.49),(3043.49,1.13),(3043.80,0.69),(3044.11,0.66),
          (3044.42,0.85),(3044.73,0.71),(3045.04,0.66),(3045.36,0.96),(3045.53,1.07),(3045.84,0.96),
          (3046.15,0.63),(3046.46,0.55),(3046.77,0.74),(3047.08,0.96),(3047.39,1.02),(3047.70,1.07),
          (3048.01,1.15),(3048.32,1.24),(3048.63,1.13),(3048.94,1.02),(3049.25,0.91),(3049.56,0.83),
          (3049.87,0.91),(3050.19,0.96),(3050.50,0.88),(3050.81,0.96),(3051.12,1.13),(3051.43,0.99),
          (3051.74,0.91),(3052.05,0.74),(3052.36,0.57),(3052.67,0.63),(3052.98,0.71),(3053.29,0.74),
          (3053.60,0.63),(3053.91,0.85),(3054.22,1.29),(3054.53,1.49),(3054.84,1.40),(3055.15,1.07),
          (3055.47,0.63),(3055.78,0.49),(3056.23,0.80),(3056.54,0.82),(3056.85,0.80),(3057.16,0.74),
          (3057.47,0.46),(3057.78,0.57),(3058.09,0.77),(3058.40,1.07),(3058.71,1.15),(3059.03,1.18),
          (3059.34,1.29),(3059.65,1.43),(3059.96,1.49),(3060.27,1.49),(3060.58,1.46),(3060.89,1.35),
          (3061.20,1.24),(3061.51,1.13),(3061.82,1.15),(3062.13,0.91),(3062.44,0.82),(3062.75,0.96),
          (3063.06,0.93),(3063.37,0.71),(3063.68,0.57),(3064.00,0.44),(3064.31,0.80),(3064.62,1.04),
          (3064.93,0.91),(3065.09,0.71),(3065.40,0.91),(3065.71,0.96),(3066.02,0.93),(3066.33,1.07),
          (3066.64,1.21),(3066.96,1.13),(3067.27,1.02),(3067.58,1.10),(3067.89,1.18),(3068.20,1.18)]

it_tau = [(2987.45,1.001),(2987.76,1.018),(2988.07,1.010),(2988.39,0.987),(2988.70,1.027),(2988.88,1.044),
          (2989.19,1.035),(2989.50,0.998),(2989.81,0.973),(2990.12,1.004),(2990.43,0.979),(2990.75,0.967),
          (2991.06,0.976),(2991.37,1.015),(2991.68,1.038),(2991.99,1.029),(2992.30,0.993),(2992.61,0.970),
          (2992.92,0.976),(2993.23,0.993),(2993.54,0.959),(2993.73,0.947),(2994.04,0.981),(2994.35,1.021),
          (2994.53,1.044),(2994.84,1.007),(2995.15,1.010),(2995.46,0.987),(2995.71,0.964),(2995.96,1.015),
          (2996.27,1.027),(2996.58,0.998),(2996.89,0.987),(2997.20,1.027),(2997.51,1.013),(2997.82,0.981),
          (2998.13,0.987),(2998.44,0.998),(2998.75,1.021),(2999.06,0.998),(2999.37,0.990),(2999.69,1.015),
          (3000.00,1.032),(3000.31,0.998),(3000.62,0.959),(3000.93,0.950),(3001.24,0.970),(3001.55,0.993),
          (3001.86,0.993),(3002.17,1.001),(3002.48,1.027),(3002.79,1.049),(3003.11,1.015),(3003.42,0.984),
          (3003.73,0.998),(3004.04,1.018),(3004.35,1.029),(3004.66,1.021),(3004.97,1.010),(3005.28,0.998),
          (3005.59,1.027),(3005.90,1.013),(3006.21,1.004),(3006.52,0.981),(3006.71,0.959),(3007.02,1.015),
          (3007.33,1.015),(3007.64,1.021),(3007.95,1.044),(3008.26,1.060),(3008.57,1.027),(3008.88,0.981),
          (3009.19,0.919),(3009.32,0.905),(3009.57,0.959),(3009.81,1.001),(3010.12,1.010),(3010.43,0.998),
          (3010.74,1.018),(3011.06,1.015),(3011.37,0.998),(3011.68,1.010),(3011.99,1.015),(3012.30,1.018),
          (3012.61,1.035),(3012.92,1.046),(3013.23,1.038),(3013.54,1.058),(3013.85,1.032),(3014.16,0.993),
          (3014.47,0.970),(3014.78,0.987),(3015.09,0.998),(3015.40,1.015),(3015.71,1.010),(3016.02,1.021),
          (3016.33,1.024),(3016.65,1.010),(3016.96,0.964),(3017.27,0.945),(3017.58,0.936),(3017.89,0.964),
          (3018.20,0.979),(3018.51,0.959),(3018.82,0.976),(3019.13,0.998),(3019.44,1.027),(3019.75,1.049),
          (3020.06,1.021),(3020.37,0.993),(3020.68,0.987),(3020.99,0.993),(3021.30,0.979),(3021.61,0.976),
          (3021.92,0.959),(3022.24,0.981),(3022.55,0.947),(3022.73,0.916),(3022.98,0.925),(3023.29,0.953),
          (3023.60,0.987),(3023.91,0.996),(3024.22,0.987),(3024.53,1.004),(3024.84,1.015),(3025.15,1.032),
          (3025.46,1.018),(3025.77,0.987),(3026.09,0.970),(3026.40,0.976),(3026.71,0.987),(3027.02,1.015),
          (3027.33,1.049),(3027.64,1.044),(3027.95,1.021),(3028.26,0.998),(3028.57,0.981),(3028.88,0.964),
          (3029.19,0.981),(3029.50,0.987),(3029.81,0.979),(3030.12,0.993),(3030.43,1.018),(3030.75,1.021),
          (3031.06,0.987),(3031.37,0.959),(3031.68,0.953),(3031.99,0.970),(3032.30,0.987),(3032.61,0.993),
          (3032.92,1.015),(3033.23,1.038),(3033.54,0.987),(3033.85,0.947),(3034.16,0.928),(3034.47,0.942),
          (3034.79,0.976),(3035.10,0.993),(3035.41,1.015),(3035.72,1.038),(3036.03,1.004),(3036.34,0.964),
          (3036.66,0.947),(3036.90,0.998),(3037.21,1.021),(3037.52,1.055),(3037.84,1.044),(3038.14,1.032),
          (3038.45,1.055),(3038.76,1.049),(3039.07,0.998),(3039.38,0.981),(3039.69,1.015),(3039.88,1.066),
          (3040.13,1.044),(3040.44,1.038),(3040.75,1.032),(3041.07,1.027),(3041.38,1.015),(3041.69,0.998),
          (3042.00,0.981),(3042.31,0.993),(3042.62,1.015),(3042.93,1.021),(3043.24,1.024),(3043.55,1.029),
          (3043.86,1.044),(3044.17,1.072),(3044.48,1.004),(3044.79,0.981),(3045.10,1.004),(3045.42,1.027),
          (3045.73,1.010),(3046.04,0.987),(3046.35,0.998),(3046.66,0.993),(3046.97,0.987),(3047.28,1.004),
          (3047.59,1.032),(3047.90,1.060),(3048.21,1.015),(3048.52,0.993),(3048.83,0.998),(3049.14,1.021),
          (3049.45,1.032),(3049.77,1.004),(3050.08,0.998),(3050.39,1.032),(3050.70,1.049),(3051.01,1.027),
          (3051.32,0.993),(3051.63,0.987),(3051.94,0.984),(3052.25,1.015),(3052.56,1.038),(3052.87,1.004),
          (3053.18,0.964),(3053.49,0.970),(3053.80,0.981),(3054.11,0.984),(3054.43,0.998),(3054.74,1.015),
          (3055.05,1.044),(3055.36,1.015),(3055.67,0.993),(3055.98,0.993),(3056.29,1.001),(3056.60,1.010),
          (3056.91,1.021),(3057.22,1.032),(3057.53,1.055),(3057.84,1.021),(3058.15,0.993),(3058.46,0.981),
          (3058.77,0.979),(3059.09,0.993),(3059.40,1.007),(3059.71,1.010),(3060.02,1.027),(3060.33,1.060),
          (3060.64,1.032),(3060.95,0.993),(3061.26,0.976),(3061.57,0.967),(3061.88,0.993),(3062.19,1.004),
          (3062.50,1.015),(3062.81,1.021),(3063.12,1.032),(3063.43,1.010),(3063.74,0.987),(3064.06,0.959),
          (3064.37,0.981),(3064.68,0.993),(3064.99,1.027),(3065.30,1.038),(3065.61,1.072),(3065.86,1.032),
          (3066.17,1.015),(3066.48,0.993),(3066.79,0.953),(3067.10,0.959),(3067.41,0.981),(3067.72,1.010),
          (3067.89,1.029),(3068.20,0.995)]

epic = [(2987.45,1.02),(2987.76,1.10),(2988.07,1.19),(2988.39,1.21),(2988.70,1.27),(2989.01,1.24),
        (2989.32,1.21),(2989.63,1.16),(2989.94,1.08),(2990.12,0.95),(2990.31,1.13),(2990.56,1.32),
        (2990.74,1.46),(2991.06,1.35),(2991.30,1.21),(2991.61,1.03),(2991.93,0.94),(2992.24,0.86),
        (2992.55,0.94),(2992.86,1.02),(2993.17,1.06),(2993.48,1.16),(2993.79,1.25),(2994.10,1.19),
        (2994.41,1.29),(2994.72,1.29),(2995.03,1.13),(2995.34,0.97),(2995.65,0.87),(2995.96,0.97),
        (2996.27,1.10),(2996.58,1.13),(2996.89,1.14),(2997.20,1.16),(2997.51,1.03),(2997.82,0.94),
        (2998.13,0.92),(2998.44,1.02),(2998.75,1.10),(2999.06,1.11),(2999.37,1.10),(2999.69,1.11),
        (3000.00,1.06),(3000.31,1.02),(3000.62,0.94),(3000.93,0.86),(3001.24,0.94),(3001.55,0.98),
        (3001.86,1.00),(3002.17,1.05),(3002.48,1.08),(3002.79,1.03),(3003.11,0.98),(3003.42,0.89),
        (3003.73,0.79),(3004.04,0.70),(3004.35,0.81),(3004.66,0.90),(3004.97,0.97),(3005.28,0.95),
        (3005.59,0.98),(3005.90,0.97),(3006.21,1.14),(3006.52,1.08),(3006.83,1.03),(3007.14,0.98),
        (3007.45,0.87),(3007.76,0.94),(3008.07,1.02),(3008.38,1.03),(3008.69,0.98),(3009.01,0.94),
        (3009.32,0.89),(3009.63,0.84),(3009.94,0.90),(3010.25,0.97),(3010.56,1.02),(3010.87,1.05),
        (3011.18,1.06),(3011.49,1.10),(3011.80,1.13),(3012.11,1.06),(3012.42,1.00),(3012.73,0.98),
        (3013.04,0.98),(3013.35,0.97),(3013.66,1.00),(3013.97,1.05),(3014.28,1.08),(3014.59,1.02),
        (3014.90,0.95),(3015.21,0.89),(3015.52,0.97),(3015.83,1.02),(3016.15,1.10),(3016.46,1.05),
        (3016.77,1.00),(3017.08,1.06),(3017.39,1.08),(3017.70,1.06),(3018.01,1.02),(3018.32,0.97),
        (3018.63,0.89),(3018.94,0.83),(3019.25,0.76),(3019.56,0.81),(3019.87,0.84),(3020.19,0.78),
        (3020.50,0.73),(3020.81,0.78),(3021.12,0.84),(3021.43,0.87),(3021.74,0.92),(3022.05,0.81),
        (3022.36,0.78),(3022.67,0.90),(3022.98,1.02),(3023.29,1.10),(3023.60,1.16),(3023.91,1.21),
        (3024.22,1.16),(3024.53,1.08),(3024.84,1.02),(3025.15,0.94),(3025.46,0.89),(3025.77,0.84),
        (3026.09,0.81),(3026.40,0.81),(3026.71,0.75),(3027.02,0.79),(3027.33,0.83),(3027.64,0.87),
        (3027.95,0.97),(3028.26,1.02),(3028.57,1.03),(3028.88,1.02),(3029.19,1.05),(3029.50,1.02),
        (3029.81,1.03),(3030.12,1.05),(3030.43,1.06),(3030.75,1.10),(3031.06,1.11),(3031.37,1.13),
        (3031.68,1.17),(3031.99,1.24),(3032.30,1.17),(3032.61,1.10),(3032.92,0.97),(3033.23,0.84),
        (3033.54,0.94),(3033.85,1.03),(3034.16,1.10),(3034.47,1.13),(3034.79,1.06),(3035.10,1.11),
        (3035.41,1.14),(3035.72,1.21),(3036.03,1.06),(3036.34,0.97),(3036.66,0.92),(3036.97,0.86),
        (3037.28,0.94),(3037.59,1.02),(3037.90,0.98),(3038.21,0.94),(3038.52,0.90),(3038.83,0.89),
        (3039.14,0.90),(3039.45,0.95),(3039.76,1.06),(3040.07,1.10),(3040.38,1.13),(3040.69,1.16),
        (3041.01,1.13),(3041.32,1.11),(3041.63,1.08),(3041.94,1.06),(3042.25,1.03),(3042.56,1.10),
        (3042.87,1.11),(3043.18,1.11),(3043.49,1.11),(3043.80,1.10),(3044.11,1.11),(3044.42,1.08),
        (3044.73,1.10),(3045.04,1.05),(3045.36,1.05),(3045.67,1.16),(3045.98,1.00),(3046.15,0.90),
        (3046.46,1.03),(3046.77,1.22),(3047.08,1.24),(3047.39,1.14),(3047.70,1.08),(3048.01,0.90),
        (3048.32,0.81),(3048.63,0.94),(3048.94,1.19),(3049.25,1.14),(3049.56,1.10),(3049.87,1.03),
        (3050.19,1.10),(3050.50,1.06),(3050.81,1.03),(3051.12,1.08),(3051.43,1.10),(3051.74,1.14),
        (3052.05,1.16),(3052.36,1.29),(3052.67,1.41),(3052.98,1.49),(3053.29,1.41),(3053.60,1.16),
        (3053.91,0.94),(3054.22,0.81),(3054.41,0.75),(3054.66,0.84),(3054.97,0.86),(3055.28,0.83),
        (3055.59,0.75),(3055.90,0.68),(3056.21,0.60),(3056.52,0.54),(3056.71,0.49),(3057.02,0.54),
        (3057.33,0.68),(3057.64,0.81),(3057.95,0.89),(3058.26,0.92),(3058.57,0.87),(3058.88,0.81),
        (3059.19,0.75),(3059.50,0.67),(3059.81,0.63),(3060.12,0.78),(3060.43,1.03),(3060.74,0.84),
        (3061.06,0.83),(3061.37,0.81),(3061.68,0.75),(3061.99,0.70),(3062.30,0.67),(3062.61,0.65),
        (3062.92,0.68),(3063.23,0.78),(3063.54,0.89),(3063.85,0.95),(3064.16,0.92),(3064.47,0.84),
        (3064.78,0.79),(3065.09,0.83),(3065.40,0.84),(3065.71,0.87),(3066.02,0.86),(3066.33,0.92),
        (3066.64,0.87),(3066.96,0.89),(3067.27,0.92),(3067.58,0.98),(3067.89,0.90),(3068.20,0.92)]

star_names = ["HH 30", "UX Tau A+C", "HL Tau", "DR Tau", "IRAS 04264+2433", "DP Tau",
              "GN Tau", "ITG 33A", "IQ Tau", "IT Tau", "EPIC248058354"]
star_series = [hh30, ux_tau, hl_tau, dr_tau, iras, dp_tau, gn_tau, itg33a, iq_tau, it_tau, epic]
y_limits = [(0.629, 1.765), (0.564, 1.474), (0.83, 1.22), (0.41, 1.80), (0.698, 1.332), (0.54, 1.637),
            (0.363, 1.80), (0.642, 1.33), (0.31, 2.26), (0.892, 1.0915), (0.435, 1.556)]
y_ticks = [[1.0, 1.5], [0.75, 1.00, 1.25], [1.0, 1.2], [0.5, 1.0, 1.5], [0.75, 1.00, 1.25], [1.0, 1.5],
           [0.5, 1.0, 1.5], [0.75, 1.00, 1.25], [1, 2], [0.9, 1.0], [0.5, 1.0, 1.5]]
x_ticks = [2990, 3000, 3010, 3020, 3030, 3040, 3050, 3060, 3070]
line_widths = [2.2, 2.0, 2.2, 2.6, 4.6, 2.2, 2.2, 3.0, 2.2, 2.0, 2.2]

# ---------------- plotting ----------------
sns.set_theme(style="ticks")
plt.rcParams.update({
    "font.family": ["DejaVu Sans"],
    "axes.linewidth": 1.7,
    "xtick.major.width": 1.7, "ytick.major.width": 1.7,
    "xtick.major.size": 8.3, "ytick.major.size": 8.3,
    "xtick.labelsize": 15, "ytick.labelsize": 15,
    "axes.edgecolor": "black",
    "xtick.color": "black", "ytick.color": "black",
})

fig, axes = plt.subplots(len(star_names), 1, figsize=(12, 17.08), dpi=100, sharex=True)
fig.subplots_adjust(left=0.0797, right=0.9917, top=0.9828, bottom=0.0477, hspace=0.26)

for ax, name, series, ylim, yt, lw in zip(axes, star_names, star_series, y_limits, y_ticks, line_widths):
    df = pd.DataFrame(series, columns=["time", "flux"])
    sns.lineplot(data=df, x="time", y="flux", ax=ax, color="black", linewidth=lw,
                 estimator=None, sort=False)
    ax.set_ylim(*ylim)
    ax.set_yticks(yt)
    ax.set_title(name, fontsize=16.5, pad=2)
    ax.set_xlabel("")
    ax.set_ylabel("")
    for s in ax.spines.values():
        s.set_visible(True)

axes[-1].set_xticks(x_ticks)
axes[-1].set_xlabel("Time [BJD - 2454833.0]", fontsize=16.5)
fig.text(0.012, 0.508, "Normalized Flux", rotation=90, va="center", ha="center", fontsize=16)

fig.savefig("out.png", dpi=100)
